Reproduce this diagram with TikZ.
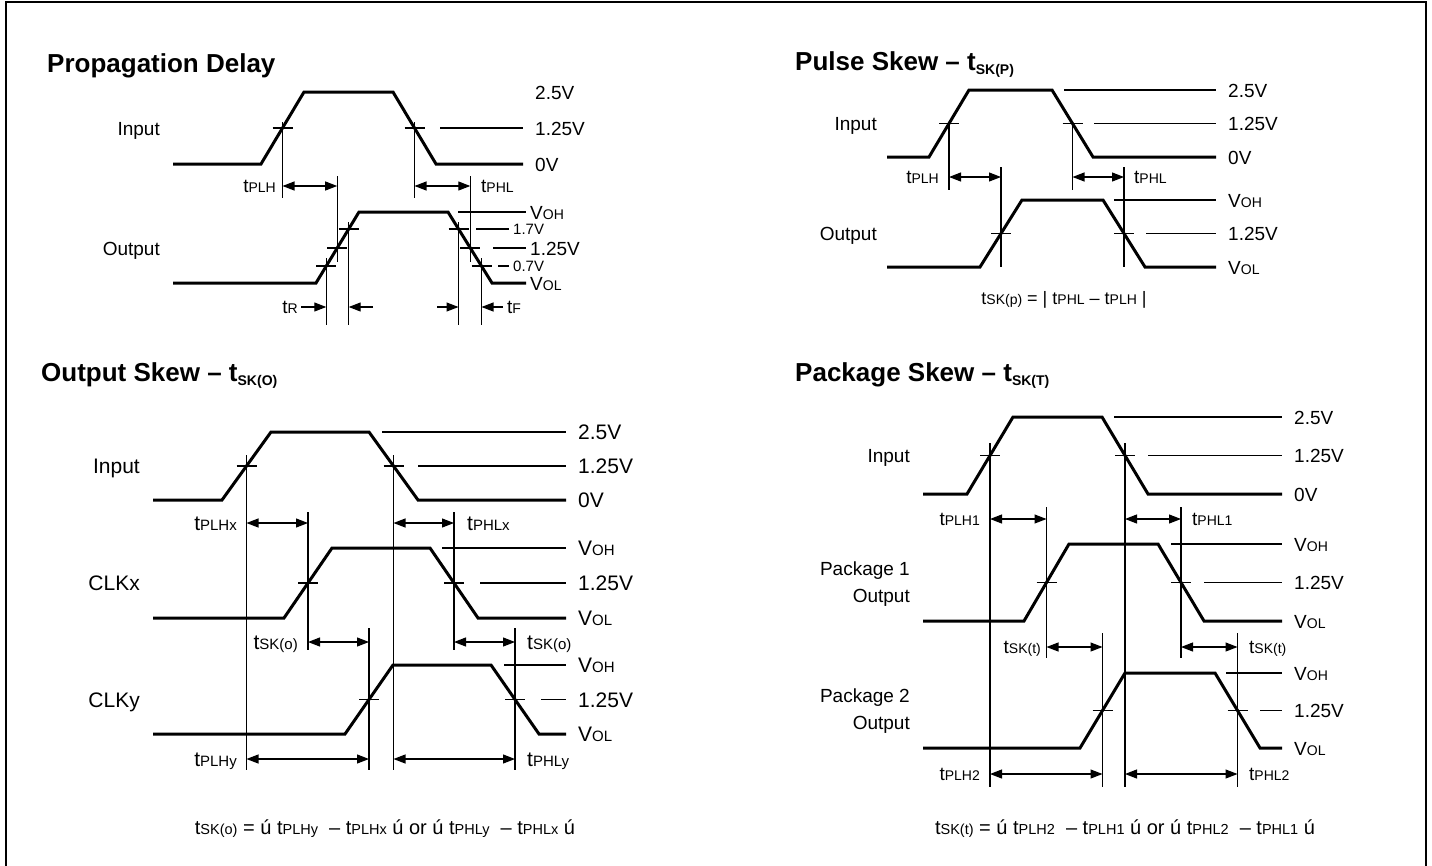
\documentclass[tikz,border=0pt]{standalone}
\usepackage{fontspec}
\setmainfont{Liberation Sans}
\usetikzlibrary{arrows.meta}
\newcommand\fs[1]{\fontsize{#1}{#1}\selectfont}
\newcommand\sm[1]{{\fs{14}#1}}
\newcommand\smb[1]{{\fs{15}#1}}
\newcommand\smf[1]{{\fs{14.5}#1}}
\newcommand\tsb[1]{t\sm{#1}}
\newcommand\tsbb[1]{t\smb{#1}}
\newcommand\tk[2]{\draw[hair] ({#1-10},#2) -- ({#1+10},#2);}
\begin{document}
\begin{tikzpicture}[x=1pt,y=-1pt,
  wave/.style={line width=3pt,line join=miter},
  hair/.style={line width=1.1pt},
  dimarr/.style={line width=1.1pt,{Triangle[length=12pt,width=9pt]}-{Triangle[length=12pt,width=9pt]}},
  onearr/.style={line width=1.1pt,-{Triangle[length=12pt,width=9pt]}},
  R/.style={anchor=base west,inner sep=0pt,font=\fs{19}},
  L/.style={anchor=base east,inner sep=0pt,font=\fs{19}},
  RB/.style={anchor=base west,inner sep=0pt,font=\fs{21}},
  LB/.style={anchor=base east,inner sep=0pt,font=\fs{21}},
  sR/.style={anchor=base west,inner sep=0pt,font=\fs{15}},
  ttl/.style={anchor=base west,inner sep=0pt,font=\fs{26}\bfseries},
  frm/.style={anchor=base,inner sep=0pt},
]
\useasboundingbox (0,0) rectangle (1432,865);
\draw[line width=1.5pt] (6,2) rectangle (1426,875);

% ================= Panel 1: Propagation Delay =================
\node[ttl] (t1) at (47,72) {Propagation Delay};
\node[L] (p1in) at (160,135) {Input};
\node[L] (p1out) at (160,255) {Output};
\draw[wave] (173,164) -- (261,164) -- (304,92) -- (393,92) -- (436,164) -- (523,164);
\tk{282.5}{128} \tk{414.5}{128}
\draw[hair] (440,128) -- (523,128);
\node[R] (p1a) at (535,99) {2.5V};
\node[R] (p1b) at (535,135) {1.25V};
\node[R] (p1c) at (535,171) {0V};
\draw[hair] (282.5,122) -- (282.5,198);
\draw[hair] (414.5,122) -- (414.5,198);
\draw[dimarr] (282.5,186) -- (337.2,186);
\draw[dimarr] (414.5,186) -- (470.3,186);
\node[L] (p1plh) at (276,192) {\tsb{PLH}};
\node[R] (p1phl) at (481,192) {\tsb{PHL}};
\draw[wave] (173,283) -- (316,283) -- (359,212) -- (448,212) -- (492,283) -- (526,283);
\tk{326.3}{266} \tk{337.2}{248} \tk{348.7}{229}
\tk{458.5}{229} \tk{470.3}{248} \tk{481.5}{266}
\draw[hair] (337.2,176) -- (337.2,262);
\draw[hair] (470.3,176) -- (470.3,262);
\draw[hair] (326.3,258) -- (326.3,325);
\draw[hair] (348.7,222) -- (348.7,325);
\draw[hair] (458.5,222) -- (458.5,325);
\draw[hair] (481.5,258) -- (481.5,325);
\draw[hair] (458,212) -- (526,212);
\draw[hair] (476,229) -- (509,229);
\draw[hair] (493,248) -- (526,248);
\draw[hair] (498,266) -- (509,266);
\node[R] (p1d) at (530,219) {V\sm{OH}};
\node[sR] (p1e) at (513,234.5) {1.7V};
\node[R] (p1f) at (530,255) {1.25V};
\node[sR] (p1g) at (513,271.5) {0.7V};
\node[R] (p1h) at (530,290) {V\sm{OL}};
\draw[onearr] (301,307) -- (326.3,307);
\draw[onearr] (373,307) -- (348.7,307);
\node[L] (p1tr) at (298,313) {t\sm{R}};
\draw[onearr] (437,307) -- (458.5,307);
\draw[onearr] (503,307) -- (481.5,307);
\node[R] (p1tf) at (507,313) {t\sm{F}};

% ================= Panel 2: Pulse Skew =================
\node[ttl] (t2) at (795,70) {Pulse Skew – t\raisebox{-4pt}{\fs{14}SK(P)}};
\node[L] (p2in) at (877,130.5) {Input};
\node[L] (p2out) at (877,240.5) {Output};
\draw[wave] (887,157) -- (929,157) -- (969,90) -- (1052,90) -- (1093,157) -- (1216,157);
\draw[hair] (1064,90) -- (1216,90);
\draw[hair] (1094,123.5) -- (1216,123.5);
\tk{949}{123.5} \tk{1072.5}{123.5}
\draw[hair] (949,123) -- (949,190);
\draw[hair] (1072.5,123) -- (1072.5,190);
\draw[wave] (887,267) -- (980,267) -- (1022,200) -- (1103,200) -- (1145,267) -- (1216,267);
\draw[hair] (1001,167) -- (1001,267);
\draw[hair] (1124,167) -- (1124,267);
\draw[hair] (1114,200) -- (1216,200);
\draw[hair] (1146,233.5) -- (1216,233.5);
\tk{1001}{233.5} \tk{1124}{233.5}
\draw[dimarr] (949,177) -- (1001,177);
\draw[dimarr] (1072.5,177) -- (1124,177);
\node[L] (p2plh) at (939,183) {\tsb{PLH}};
\node[R] (p2phl) at (1134,183) {\tsb{PHL}};
\node[R] (p2a) at (1228,97) {2.5V};
\node[R] (p2b) at (1228,130.5) {1.25V};
\node[R] (p2c) at (1228,164) {0V};
\node[R] (p2d) at (1228,207) {V\sm{OH}};
\node[R] (p2e) at (1228,240.5) {1.25V};
\node[R] (p2f) at (1228,274) {V\sm{OL}};
\node[frm,font=\fs{18}] (p2frm) at (1064,304) {t\sm{SK(p)} = | t\sm{PHL} – t\sm{PLH} |};

% ================= Panel 3: Output Skew =================
\node[ttl] (t3) at (41,381) {Output Skew – t\raisebox{-4pt}{\fs{14}SK(O)}};
\node[LB] (p3in) at (140,473.5) {Input};
\node[LB] (p3x) at (140,590.5) {CLKx};
\node[LB] (p3y) at (140,707.5) {CLKy};
\draw[wave] (153,500) -- (222,500) -- (271,432) -- (369,432) -- (418,500) -- (566,500);
\draw[hair] (382,432) -- (566,432);
\draw[hair] (418,466) -- (566,466);
\tk{246.5}{466} \tk{393.5}{466}
\draw[hair] (246.5,455) -- (246.5,770);
\draw[hair] (393.5,455) -- (393.5,770);
\node[RB] (p3a) at (578,439.5) {2.5V};
\node[RB] (p3b) at (578,473.5) {1.25V};
\node[RB] (p3c) at (578,507.5) {0V};
\draw[dimarr] (246.5,523) -- (308,523);
\draw[dimarr] (393.5,523) -- (454,523);
\node[LB] (p3plhx) at (237,530) {\tsbb{PLHx}};
\node[RB] (p3phlx) at (467,530) {\tsbb{PHLx}};
\draw[wave] (153,618) -- (284,618) -- (332,548) -- (430,548) -- (478,618) -- (566,618);
\draw[hair] (442,548) -- (566,548);
\draw[hair] (480,583) -- (566,583);
\tk{308}{583} \tk{454}{583}
\draw[hair] (308,512) -- (308,650);
\draw[hair] (454,512) -- (454,650);
\node[RB] (p3d) at (578,555.5) {V\smb{OH}};
\node[RB] (p3e) at (578,590.5) {1.25V};
\node[RB] (p3f) at (578,625.5) {V\smb{OL}};
\draw[dimarr] (308,642) -- (369,642);
\draw[dimarr] (454,642) -- (515,642);
\node[LB] (p3sk1) at (298,649) {t\smb{SK(o)}};
\node[RB] (p3sk2) at (527,649) {t\smb{SK(o)}};
\draw[wave] (153,734) -- (345,734) -- (393,665) -- (491,665) -- (539,734) -- (566,734);
\draw[hair] (504,665) -- (566,665);
\draw[hair] (541,699.5) -- (566,699.5);
\tk{369}{699.5} \tk{515}{699.5}
\draw[hair] (369,628) -- (369,770);
\draw[hair] (515,628) -- (515,770);
\node[RB] (p3g) at (578,672.5) {V\smb{OH}};
\node[RB] (p3h) at (578,707) {1.25V};
\node[RB] (p3i) at (578,741.5) {V\smb{OL}};
\draw[dimarr] (246.5,759) -- (369,759);
\draw[dimarr] (393.5,759) -- (515,759);
\node[LB] (p3plhy) at (237,766) {\tsbb{PLHy}};
\node[RB] (p3phly) at (527,766) {\tsbb{PHLy}};
\node[frm,font=\fs{20}] (p3frm) at (385,834) {t\smf{SK(o)} = ú t\smf{PLHy}\ \ – t\smf{PLHx} ú or ú t\smf{PHLy}\ \ – t\smf{PHLx} ú};

% ================= Panel 4: Package Skew =================
\node[ttl] (t4) at (795,381) {Package Skew – t\raisebox{-4pt}{\fs{14}SK(T)}};
\node[L] (p4in) at (910,462) {Input};
\node[L] (p4p1) at (910,575) {Package 1};
\node[L] (p4o1) at (910,602) {Output};
\node[L] (p4p2) at (910,702) {Package 2};
\node[L] (p4o2) at (910,729) {Output};
\draw[wave] (923,494) -- (967,494) -- (1013,417) -- (1102,417) -- (1148,494) -- (1282,494);
\draw[hair] (1114,417) -- (1282,417);
\draw[hair] (1148,455.5) -- (1282,455.5);
\tk{990}{455.5} \tk{1125}{455.5}
\draw[hair] (990,443) -- (990,787);
\draw[hair] (1125,443) -- (1125,787);
\node[R] (p4a) at (1294,424) {2.5V};
\node[R] (p4b) at (1294,462.5) {1.25V};
\node[R] (p4c) at (1294,501) {0V};
\draw[dimarr] (990,519) -- (1046.5,519);
\draw[dimarr] (1125,519) -- (1181,519);
\node[L] (p4plh1) at (980,525) {\tsb{PLH1}};
\node[R] (p4phl1) at (1192,525) {\tsb{PHL1}};
\draw[wave] (923,621) -- (1024,621) -- (1069,544) -- (1158,544) -- (1204,621) -- (1282,621);
\draw[hair] (1171,544) -- (1282,544);
\draw[hair] (1204,582.5) -- (1282,582.5);
\tk{1046.5}{582.5} \tk{1181}{582.5}
\draw[hair] (1046.5,507) -- (1046.5,658);
\draw[hair] (1181,507) -- (1181,658);
\node[R] (p4d) at (1294,551) {V\sm{OH}};
\node[R] (p4e) at (1294,589.5) {1.25V};
\node[R] (p4f) at (1294,628) {V\sm{OL}};
\draw[dimarr] (1046.5,647) -- (1102.5,647);
\draw[dimarr] (1181,647) -- (1237.5,647);
\node[L] (p4sk1) at (1041,653) {t\sm{SK(t)}};
\node[R] (p4sk2) at (1249,653) {t\sm{SK(t)}};
\draw[wave] (923,748) -- (1080,748) -- (1125,673) -- (1215,673) -- (1260,748) -- (1282,748);
\draw[hair] (1226,673) -- (1282,673);
\draw[hair] (1260,710.5) -- (1282,710.5);
\tk{1102.5}{710.5} \tk{1237.5}{710.5}
\draw[hair] (1102.5,633) -- (1102.5,787);
\draw[hair] (1237.5,633) -- (1237.5,787);
\node[R] (p4g) at (1294,680) {V\sm{OH}};
\node[R] (p4h) at (1294,717.5) {1.25V};
\node[R] (p4i) at (1294,755) {V\sm{OL}};
\draw[dimarr] (990,774) -- (1102.5,774);
\draw[dimarr] (1125,774) -- (1237.5,774);
\node[L] (p4plh2) at (980,780) {\tsb{PLH2}};
\node[R] (p4phl2) at (1249,780) {\tsb{PHL2}};
\node[frm,font=\fs{20}] (p4frm) at (1125,834) {t\smf{SK(t)} = ú t\smf{PLH2}\ \ – t\smf{PLH1} ú or ú t\smf{PHL2}\ \ – t\smf{PHL1} ú};
\end{tikzpicture}
\end{document}
